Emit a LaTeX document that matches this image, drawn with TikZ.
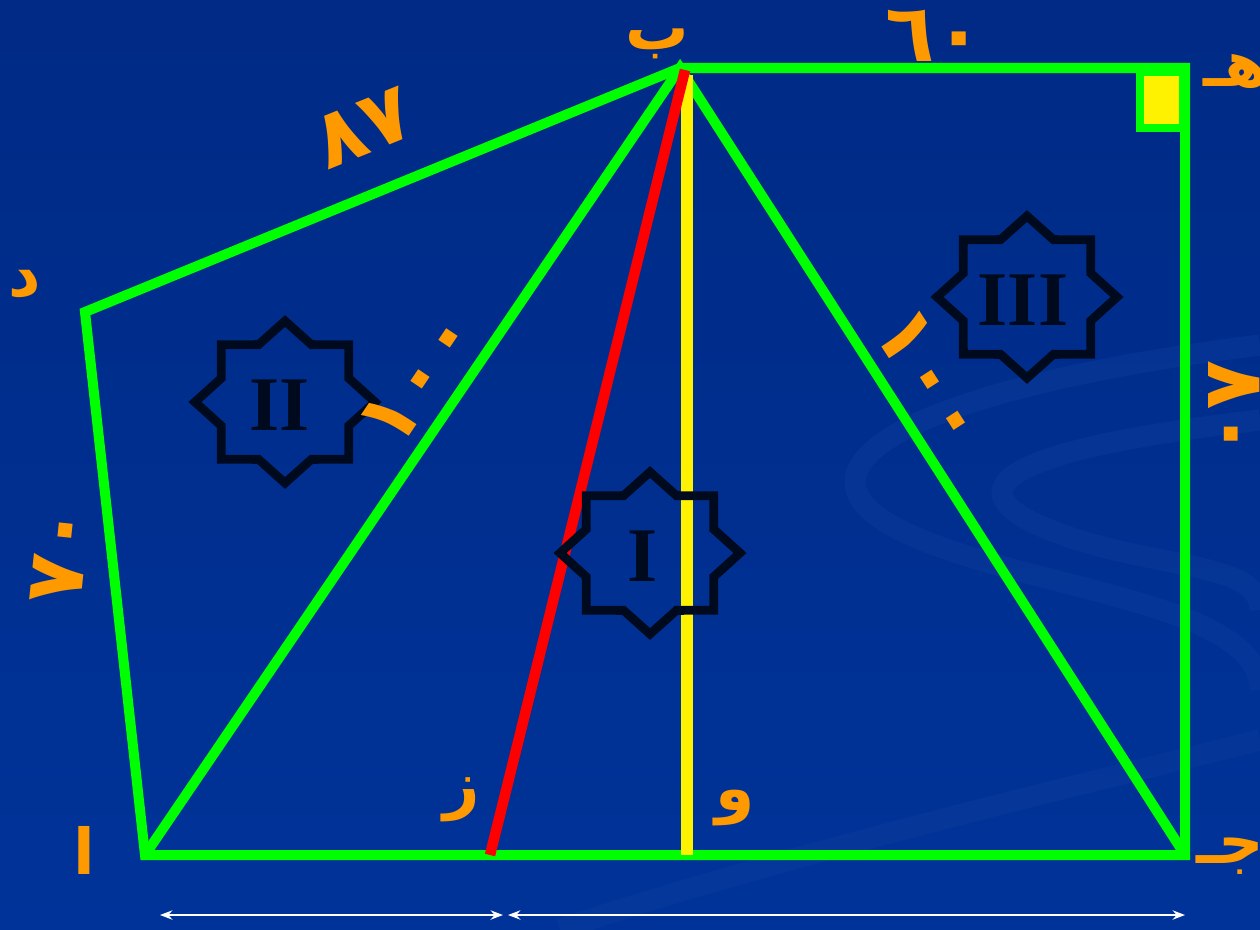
\documentclass[tikz,border=0pt]{standalone}
\usepackage{fontspec}
\newfontfamily\arabicfont[Script=Arabic]{DejaVu Sans}
\newfontfamily\romanfont{Liberation Serif}
\TeXXeTstate=1
\usetikzlibrary{arrows.meta}
\definecolor{bgblue}{HTML}{003399}
\definecolor{bgtop}{HTML}{002A85}
\definecolor{swirl}{HTML}{0A3A9A}
\definecolor{lime}{HTML}{00FF00}
\definecolor{lblorange}{HTML}{FF9900}
\definecolor{starink}{HTML}{000A1E}
\tikzset{
  side/.style={draw=lime, line width=5.7pt},
  lbl/.style={text=lblorange, font=\arabicfont\bfseries\fontsize{36}{40}\selectfont, inner sep=0pt},
  num/.style={text=lblorange, font=\arabicfont\bfseries\fontsize{46}{50}\selectfont, inner sep=0pt},
  numeral/.style={text=starink, font=\romanfont\bfseries\fontsize{44}{50}\selectfont, inner sep=0pt},
  octstar/.pic={
    \draw[starink, line width=5pt, yscale=0.9] (0:90)
      \foreach \k in {1,...,15}{ -- ({\k*22.5}:{ifthenelse(isodd(\k),69,90)})} -- cycle;
  }
}
\begin{document}
\begin{tikzpicture}[x=0.02cm, y=-0.02cm]
    \useasboundingbox (0,0) rectangle (1260,929);
    \shade[top color=bgtop, bottom color=bgblue] (0,0) rectangle (1260,929);
    % faint swirl in the background
    \begin{scope}[swirl, line width=12pt, opacity=.5]
    \draw (1260,345) .. controls (900,390) and (780,470) .. (900,530) .. controls (1020,590) and (1260,600) .. (1260,690);
    \draw (1260,420) .. controls (1000,450) and (950,490) .. (1050,530) .. controls (1150,570) and (1260,560) .. (1260,610);
    \draw (560,929) .. controls (800,850) and (1100,780) .. (1260,740);
    \end{scope}

    \coordinate (A) at (145,855);
    \coordinate (D) at (85,312);
    \coordinate (B) at (680,68);
    \coordinate (E) at (1185,68);
    \coordinate (C) at (1185,855);
    \coordinate (Z) at (490,855);
    \coordinate (W) at (687,855);
    \coordinate (Bw) at (687,75);
    \coordinate (Br) at (685,70);

    \draw[side] (A) -- (D) -- (B) -- (E) -- (C) -- cycle;
    \draw[side] (A) -- (B) -- (C);
    \draw[draw=lime, fill=yellow, line width=4.5pt] (1140,72) rectangle (1183,128);
    \draw[yellow, line width=7pt] (Bw) -- (W);
    \draw[red, line width=6pt] (Z) -- (Br);

    \pic at (285,402) {octstar};
    \pic at (650,553) {octstar};
    \pic at (1027,297) {octstar};
    \node[numeral] (n1) at (643,556) {I};
    \node[numeral] (n2) at (280,405) {II};
    \node[numeral] (n3) at (1023,300) {III};

    % vertex names
    \node[lbl] (lB) at (657,44) {\beginR ب\endR};
    \node[lbl] (lE) at (1236,72) {\beginR هـ\endR};
    \node[lbl] (lD) at (25,284) {\beginR د\endR};
    \node[lbl] (lA) at (84,850) {\beginR ا\endR};
    \node[lbl] (lZ) at (462,800) {\beginR ز\endR};
    \node[lbl] (lW) at (735,808) {\beginR و\endR};
    \node[lbl] (lC) at (1230,856) {\beginR جـ\endR};

    % lengths
    \node[num] (sBE) at (935,36) {٦٠};
    \node[num, rotate=22] (sDB) at (364,128) {٨٧};
    \node[num, rotate=84] (sAD) at (60,555) {٧٠};
    \node[num, rotate=56] (sAB) at (418,378) {١٠٠};
    \node[num, rotate=-57] (sBC) at (932,378) {١٠٠};
    \node[num, rotate=-90] (sEC) at (1234,410) {٨٠};

    \coordinate (m1) at (160,915);
    \coordinate (m2) at (503,915);
    \coordinate (m3) at (508,915);
    \coordinate (m4) at (1185,915);
    \draw[white, line width=1.2pt, {Stealth[length=7pt]}-{Stealth[length=7pt]}] (m1) -- (m2);
    \draw[white, line width=1.2pt, {Stealth[length=7pt]}-{Stealth[length=7pt]}] (m3) -- (m4);
\end{tikzpicture}
\end{document}
